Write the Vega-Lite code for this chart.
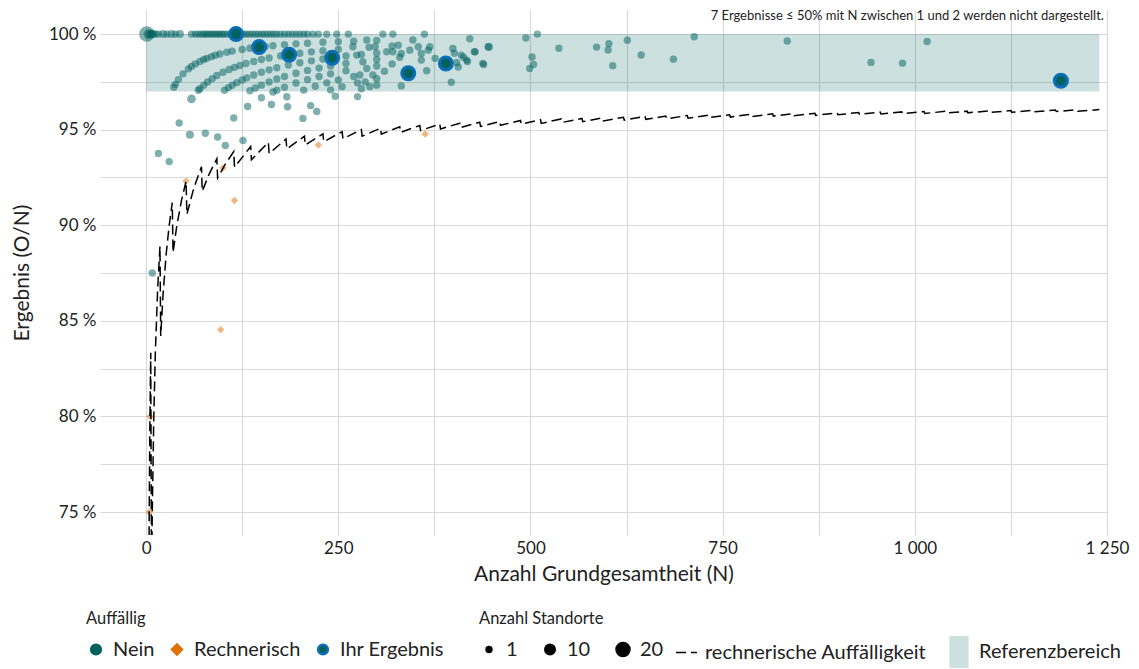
{
"$schema": "https://vega.github.io/schema/vega-lite/v6.json",
"width": 1007, "height": 525,
"autosize": {"type": "none"},
"padding": {"left": 100, "top": 10, "right": 32, "bottom": 134},
"background": "white",
"datasets": {
"pts": [
{"N":1,"Ergebnis":100,"Auffaellig":"Nein","Standorte":20},{"N":3,"Ergebnis":100,"Auffaellig":"Nein","Standorte":5},{"N":5,"Ergebnis":100,"Auffaellig":"Nein","Standorte":3},{"N":7,"Ergebnis":100,"Auffaellig":"Nein","Standorte":2},{"N":9,"Ergebnis":100,"Auffaellig":"Nein","Standorte":2},{"N":12,"Ergebnis":100,"Auffaellig":"Nein","Standorte":1},{"N":16,"Ergebnis":100,"Auffaellig":"Nein","Standorte":1},{"N":22,"Ergebnis":100,"Auffaellig":"Nein","Standorte":2},{"N":27,"Ergebnis":100,"Auffaellig":"Nein","Standorte":1},{"N":33,"Ergebnis":100,"Auffaellig":"Nein","Standorte":2},{"N":38,"Ergebnis":100,"Auffaellig":"Nein","Standorte":1},{"N":44,"Ergebnis":100,"Auffaellig":"Nein","Standorte":2},{"N":59,"Ergebnis":100,"Auffaellig":"Nein","Standorte":1},{"N":64,"Ergebnis":100,"Auffaellig":"Nein","Standorte":1},{"N":68,"Ergebnis":100,"Auffaellig":"Nein","Standorte":1},{"N":72,"Ergebnis":100,"Auffaellig":"Nein","Standorte":1},{"N":75,"Ergebnis":100,"Auffaellig":"Nein","Standorte":1},{"N":78,"Ergebnis":100,"Auffaellig":"Nein","Standorte":1},{"N":81,"Ergebnis":100,"Auffaellig":"Nein","Standorte":1},{"N":84,"Ergebnis":100,"Auffaellig":"Nein","Standorte":1},{"N":87,"Ergebnis":100,"Auffaellig":"Nein","Standorte":1},{"N":90,"Ergebnis":100,"Auffaellig":"Nein","Standorte":1},{"N":93,"Ergebnis":100,"Auffaellig":"Nein","Standorte":1},{"N":96,"Ergebnis":100,"Auffaellig":"Nein","Standorte":1},{"N":99,"Ergebnis":100,"Auffaellig":"Nein","Standorte":1},{"N":102,"Ergebnis":100,"Auffaellig":"Nein","Standorte":1},{"N":106,"Ergebnis":100,"Auffaellig":"Nein","Standorte":1},{"N":110,"Ergebnis":100,"Auffaellig":"Nein","Standorte":1},{"N":113,"Ergebnis":100,"Auffaellig":"Nein","Standorte":1},{"N":122,"Ergebnis":100,"Auffaellig":"Nein","Standorte":1},{"N":126,"Ergebnis":100,"Auffaellig":"Nein","Standorte":1},{"N":130,"Ergebnis":100,"Auffaellig":"Nein","Standorte":1},{"N":134,"Ergebnis":100,"Auffaellig":"Nein","Standorte":1},{"N":138,"Ergebnis":100,"Auffaellig":"Nein","Standorte":1},{"N":142,"Ergebnis":100,"Auffaellig":"Nein","Standorte":1},{"N":146,"Ergebnis":100,"Auffaellig":"Nein","Standorte":1},{"N":150,"Ergebnis":100,"Auffaellig":"Nein","Standorte":1},{"N":154,"Ergebnis":100,"Auffaellig":"Nein","Standorte":1},{"N":158,"Ergebnis":100,"Auffaellig":"Nein","Standorte":1},{"N":162,"Ergebnis":100,"Auffaellig":"Nein","Standorte":1},{"N":166,"Ergebnis":100,"Auffaellig":"Nein","Standorte":1},{"N":170,"Ergebnis":100,"Auffaellig":"Nein","Standorte":1},{"N":175,"Ergebnis":100,"Auffaellig":"Nein","Standorte":1},{"N":180,"Ergebnis":100,"Auffaellig":"Nein","Standorte":1},{"N":185,"Ergebnis":100,"Auffaellig":"Nein","Standorte":1},{"N":190,"Ergebnis":100,"Auffaellig":"Nein","Standorte":1},{"N":195,"Ergebnis":100,"Auffaellig":"Nein","Standorte":1},{"N":200,"Ergebnis":100,"Auffaellig":"Nein","Standorte":1},{"N":205,"Ergebnis":100,"Auffaellig":"Nein","Standorte":1},{"N":210,"Ergebnis":100,"Auffaellig":"Nein","Standorte":1},{"N":217,"Ergebnis":100,"Auffaellig":"Nein","Standorte":1},{"N":224,"Ergebnis":100,"Auffaellig":"Nein","Standorte":1},{"N":235,"Ergebnis":100,"Auffaellig":"Nein","Standorte":1},{"N":248,"Ergebnis":100,"Auffaellig":"Nein","Standorte":1},{"N":263,"Ergebnis":100,"Auffaellig":"Nein","Standorte":1},{"N":308,"Ergebnis":100,"Auffaellig":"Nein","Standorte":1},{"N":321,"Ergebnis":100,"Auffaellig":"Nein","Standorte":1},{"N":362,"Ergebnis":100,"Auffaellig":"Nein","Standorte":1},{"N":509,"Ergebnis":100,"Auffaellig":"Nein","Standorte":1},
{"N":8,"Ergebnis":87.5,"Auffaellig":"Nein","Standorte":1},{"N":16,"Ergebnis":93.75,"Auffaellig":"Nein","Standorte":1},{"N":36,"Ergebnis":97.22,"Auffaellig":"Nein","Standorte":1},{"N":38,"Ergebnis":97.37,"Auffaellig":"Nein","Standorte":1},{"N":42,"Ergebnis":97.62,"Auffaellig":"Nein","Standorte":1},{"N":48,"Ergebnis":97.92,"Auffaellig":"Nein","Standorte":1},{"N":55,"Ergebnis":98.18,"Auffaellig":"Nein","Standorte":1},{"N":59,"Ergebnis":98.31,"Auffaellig":"Nein","Standorte":1},{"N":64,"Ergebnis":98.44,"Auffaellig":"Nein","Standorte":1},{"N":70,"Ergebnis":98.57,"Auffaellig":"Nein","Standorte":1},{"N":75,"Ergebnis":98.67,"Auffaellig":"Nein","Standorte":1},{"N":79,"Ergebnis":98.73,"Auffaellig":"Nein","Standorte":1},{"N":85,"Ergebnis":98.82,"Auffaellig":"Nein","Standorte":1},{"N":90,"Ergebnis":98.89,"Auffaellig":"Nein","Standorte":1},{"N":96,"Ergebnis":98.96,"Auffaellig":"Nein","Standorte":1},{"N":105,"Ergebnis":99.05,"Auffaellig":"Nein","Standorte":1},{"N":112,"Ergebnis":99.11,"Auffaellig":"Nein","Standorte":1},{"N":125,"Ergebnis":99.2,"Auffaellig":"Nein","Standorte":1},{"N":135,"Ergebnis":99.26,"Auffaellig":"Nein","Standorte":1},{"N":155,"Ergebnis":99.35,"Auffaellig":"Nein","Standorte":1},{"N":165,"Ergebnis":99.39,"Auffaellig":"Nein","Standorte":1},{"N":180,"Ergebnis":99.44,"Auffaellig":"Nein","Standorte":1},{"N":195,"Ergebnis":99.49,"Auffaellig":"Nein","Standorte":1},{"N":210,"Ergebnis":99.52,"Auffaellig":"Nein","Standorte":1},{"N":230,"Ergebnis":99.57,"Auffaellig":"Nein","Standorte":1},{"N":250,"Ergebnis":99.6,"Auffaellig":"Nein","Standorte":1},{"N":270,"Ergebnis":99.63,"Auffaellig":"Nein","Standorte":1},{"N":300,"Ergebnis":99.67,"Auffaellig":"Nein","Standorte":1},{"N":421,"Ergebnis":99.76,"Auffaellig":"Nein","Standorte":1},{"N":494,"Ergebnis":99.8,"Auffaellig":"Nein","Standorte":1},{"N":713,"Ergebnis":99.86,"Auffaellig":"Nein","Standorte":1},
{"N":30,"Ergebnis":93.33,"Auffaellig":"Nein","Standorte":1},{"N":43,"Ergebnis":95.35,"Auffaellig":"Nein","Standorte":1},{"N":59,"Ergebnis":96.61,"Auffaellig":"Nein","Standorte":3},{"N":70,"Ergebnis":97.14,"Auffaellig":"Nein","Standorte":1},{"N":68,"Ergebnis":97.06,"Auffaellig":"Nein","Standorte":1},{"N":75,"Ergebnis":97.33,"Auffaellig":"Nein","Standorte":1},{"N":80,"Ergebnis":97.5,"Auffaellig":"Nein","Standorte":1},{"N":86,"Ergebnis":97.67,"Auffaellig":"Nein","Standorte":1},{"N":92,"Ergebnis":97.83,"Auffaellig":"Nein","Standorte":1},{"N":100,"Ergebnis":98.0,"Auffaellig":"Nein","Standorte":1},{"N":108,"Ergebnis":98.15,"Auffaellig":"Nein","Standorte":1},{"N":115,"Ergebnis":98.26,"Auffaellig":"Nein","Standorte":1},{"N":122,"Ergebnis":98.36,"Auffaellig":"Nein","Standorte":1},{"N":130,"Ergebnis":98.46,"Auffaellig":"Nein","Standorte":1},{"N":140,"Ergebnis":98.57,"Auffaellig":"Nein","Standorte":1},{"N":150,"Ergebnis":98.67,"Auffaellig":"Nein","Standorte":1},{"N":160,"Ergebnis":98.75,"Auffaellig":"Nein","Standorte":1},{"N":175,"Ergebnis":98.86,"Auffaellig":"Nein","Standorte":1},{"N":200,"Ergebnis":99.0,"Auffaellig":"Nein","Standorte":1},{"N":215,"Ergebnis":99.07,"Auffaellig":"Nein","Standorte":1},{"N":230,"Ergebnis":99.13,"Auffaellig":"Nein","Standorte":1},{"N":250,"Ergebnis":99.2,"Auffaellig":"Nein","Standorte":1},{"N":290,"Ergebnis":99.31,"Auffaellig":"Nein","Standorte":1},{"N":320,"Ergebnis":99.38,"Auffaellig":"Nein","Standorte":1},{"N":626,"Ergebnis":99.68,"Auffaellig":"Nein","Standorte":1},
{"N":57,"Ergebnis":94.74,"Auffaellig":"Nein","Standorte":2},{"N":102,"Ergebnis":97.06,"Auffaellig":"Nein","Standorte":1},{"N":107,"Ergebnis":97.2,"Auffaellig":"Nein","Standorte":1},{"N":112,"Ergebnis":97.32,"Auffaellig":"Nein","Standorte":1},{"N":118,"Ergebnis":97.46,"Auffaellig":"Nein","Standorte":1},{"N":125,"Ergebnis":97.6,"Auffaellig":"Nein","Standorte":1},{"N":131,"Ergebnis":97.71,"Auffaellig":"Nein","Standorte":1},{"N":140,"Ergebnis":97.86,"Auffaellig":"Nein","Standorte":1},{"N":150,"Ergebnis":98.0,"Auffaellig":"Nein","Standorte":1},{"N":160,"Ergebnis":98.13,"Auffaellig":"Nein","Standorte":1},{"N":170,"Ergebnis":98.24,"Auffaellig":"Nein","Standorte":1},{"N":185,"Ergebnis":98.38,"Auffaellig":"Nein","Standorte":1},{"N":200,"Ergebnis":98.5,"Auffaellig":"Nein","Standorte":1},{"N":215,"Ergebnis":98.6,"Auffaellig":"Nein","Standorte":1},{"N":230,"Ergebnis":98.7,"Auffaellig":"Nein","Standorte":1},{"N":260,"Ergebnis":98.85,"Auffaellig":"Nein","Standorte":1},{"N":280,"Ergebnis":98.93,"Auffaellig":"Nein","Standorte":1},{"N":300,"Ergebnis":99.0,"Auffaellig":"Nein","Standorte":1},{"N":446,"Ergebnis":99.33,"Auffaellig":"Nein","Standorte":2},{"N":602,"Ergebnis":99.5,"Auffaellig":"Nein","Standorte":1},{"N":834,"Ergebnis":99.64,"Auffaellig":"Nein","Standorte":1},
{"N":77,"Ergebnis":94.81,"Auffaellig":"Nein","Standorte":1},{"N":135,"Ergebnis":97.04,"Auffaellig":"Nein","Standorte":1},{"N":142,"Ergebnis":97.18,"Auffaellig":"Nein","Standorte":1},{"N":150,"Ergebnis":97.33,"Auffaellig":"Nein","Standorte":1},{"N":160,"Ergebnis":97.5,"Auffaellig":"Nein","Standorte":1},{"N":170,"Ergebnis":97.65,"Auffaellig":"Nein","Standorte":1},{"N":180,"Ergebnis":97.78,"Auffaellig":"Nein","Standorte":1},{"N":195,"Ergebnis":97.95,"Auffaellig":"Nein","Standorte":1},{"N":210,"Ergebnis":98.1,"Auffaellig":"Nein","Standorte":1},{"N":225,"Ergebnis":98.22,"Auffaellig":"Nein","Standorte":1},{"N":240,"Ergebnis":98.33,"Auffaellig":"Nein","Standorte":1},{"N":260,"Ergebnis":98.46,"Auffaellig":"Nein","Standorte":1},{"N":300,"Ergebnis":98.67,"Auffaellig":"Nein","Standorte":1},{"N":330,"Ergebnis":98.79,"Auffaellig":"Nein","Standorte":1},{"N":428,"Ergebnis":99.07,"Auffaellig":"Nein","Standorte":1},{"N":537,"Ergebnis":99.26,"Auffaellig":"Nein","Standorte":1},{"N":586,"Ergebnis":99.32,"Auffaellig":"Nein","Standorte":1},{"N":1016,"Ergebnis":99.61,"Auffaellig":"Nein","Standorte":1},{"N":401,"Ergebnis":99.0,"Auffaellig":"Nein","Standorte":1},
{"N":93,"Ergebnis":94.62,"Auffaellig":"Nein","Standorte":1},{"N":114,"Ergebnis":95.61,"Auffaellig":"Nein","Standorte":1},{"N":132,"Ergebnis":96.21,"Auffaellig":"Nein","Standorte":1},{"N":150,"Ergebnis":96.67,"Auffaellig":"Nein","Standorte":1},{"N":165,"Ergebnis":96.97,"Auffaellig":"Nein","Standorte":1},{"N":170,"Ergebnis":97.06,"Auffaellig":"Nein","Standorte":1},{"N":180,"Ergebnis":97.22,"Auffaellig":"Nein","Standorte":1},{"N":195,"Ergebnis":97.44,"Auffaellig":"Nein","Standorte":1},{"N":210,"Ergebnis":97.62,"Auffaellig":"Nein","Standorte":1},{"N":225,"Ergebnis":97.78,"Auffaellig":"Nein","Standorte":1},{"N":240,"Ergebnis":97.92,"Auffaellig":"Nein","Standorte":1},{"N":260,"Ergebnis":98.08,"Auffaellig":"Nein","Standorte":1},{"N":300,"Ergebnis":98.33,"Auffaellig":"Nein","Standorte":1},{"N":320,"Ergebnis":98.44,"Auffaellig":"Nein","Standorte":1},{"N":413,"Ergebnis":98.79,"Auffaellig":"Nein","Standorte":1},{"N":601,"Ergebnis":99.17,"Auffaellig":"Nein","Standorte":1},
{"N":103,"Ergebnis":94.17,"Auffaellig":"Nein","Standorte":1},{"N":163,"Ergebnis":96.32,"Auffaellig":"Nein","Standorte":1},{"N":183,"Ergebnis":96.72,"Auffaellig":"Nein","Standorte":1},{"N":205,"Ergebnis":97.07,"Auffaellig":"Nein","Standorte":1},{"N":220,"Ergebnis":97.27,"Auffaellig":"Nein","Standorte":1},{"N":235,"Ergebnis":97.45,"Auffaellig":"Nein","Standorte":1},{"N":250,"Ergebnis":97.6,"Auffaellig":"Nein","Standorte":1},{"N":270,"Ergebnis":97.78,"Auffaellig":"Nein","Standorte":1},{"N":310,"Ergebnis":98.06,"Auffaellig":"Nein","Standorte":1},{"N":404,"Ergebnis":98.51,"Auffaellig":"Nein","Standorte":1},{"N":418,"Ergebnis":98.56,"Auffaellig":"Nein","Standorte":1},{"N":502,"Ergebnis":98.8,"Auffaellig":"Nein","Standorte":1},
{"N":126,"Ergebnis":94.44,"Auffaellig":"Nein","Standorte":1},{"N":184,"Ergebnis":96.2,"Auffaellig":"Nein","Standorte":1},{"N":240,"Ergebnis":97.08,"Auffaellig":"Nein","Standorte":1},{"N":255,"Ergebnis":97.25,"Auffaellig":"Nein","Standorte":1},{"N":275,"Ergebnis":97.45,"Auffaellig":"Nein","Standorte":1},{"N":300,"Ergebnis":97.67,"Auffaellig":"Nein","Standorte":1},{"N":365,"Ergebnis":98.08,"Auffaellig":"Nein","Standorte":1},{"N":406,"Ergebnis":98.28,"Auffaellig":"Nein","Standorte":1},{"N":439,"Ergebnis":98.41,"Auffaellig":"Nein","Standorte":1},{"N":644,"Ergebnis":98.91,"Auffaellig":"Nein","Standorte":1},
{"N":214,"Ergebnis":96.26,"Auffaellig":"Nein","Standorte":1},{"N":246,"Ergebnis":96.75,"Auffaellig":"Nein","Standorte":1},{"N":280,"Ergebnis":97.14,"Auffaellig":"Nein","Standorte":1},{"N":291,"Ergebnis":97.25,"Auffaellig":"Nein","Standorte":1},{"N":300,"Ergebnis":97.33,"Auffaellig":"Nein","Standorte":1},{"N":504,"Ergebnis":98.41,"Auffaellig":"Nein","Standorte":1},
{"N":204,"Ergebnis":95.59,"Auffaellig":"Nein","Standorte":1},{"N":222,"Ergebnis":95.95,"Auffaellig":"Nein","Standorte":1},{"N":275,"Ergebnis":96.73,"Auffaellig":"Nein","Standorte":1},{"N":332,"Ergebnis":97.29,"Auffaellig":"Nein","Standorte":1},{"N":499,"Ergebnis":98.2,"Auffaellig":"Nein","Standorte":1},{"N":686,"Ergebnis":98.69,"Auffaellig":"Nein","Standorte":1},
{"N":397,"Ergebnis":97.48,"Auffaellig":"Nein","Standorte":1},{"N":607,"Ergebnis":98.35,"Auffaellig":"Nein","Standorte":1},{"N":943,"Ergebnis":98.52,"Auffaellig":"Nein","Standorte":1},{"N":984,"Ergebnis":98.48,"Auffaellig":"Nein","Standorte":1},
{"N":269,"Ergebnis":99.34,"Auffaellig":"Nein","Standorte":1},{"N":274,"Ergebnis":98.9,"Auffaellig":"Nein","Standorte":1},{"N":287,"Ergebnis":99.69,"Auffaellig":"Nein","Standorte":1},{"N":282,"Ergebnis":98.55,"Auffaellig":"Nein","Standorte":1},{"N":287,"Ergebnis":98.2,"Auffaellig":"Nein","Standorte":1},{"N":298,"Ergebnis":99.34,"Auffaellig":"Nein","Standorte":1},{"N":295,"Ergebnis":97.86,"Auffaellig":"Nein","Standorte":1},{"N":278,"Ergebnis":97.86,"Auffaellig":"Nein","Standorte":1},{"N":285,"Ergebnis":97.5,"Auffaellig":"Nein","Standorte":1},{"N":313,"Ergebnis":99.08,"Auffaellig":"Nein","Standorte":1},{"N":321,"Ergebnis":99.08,"Auffaellig":"Nein","Standorte":1},{"N":328,"Ergebnis":99.42,"Auffaellig":"Nein","Standorte":1},{"N":332,"Ergebnis":98.99,"Auffaellig":"Nein","Standorte":1},{"N":343,"Ergebnis":99.16,"Auffaellig":"Nein","Standorte":1},{"N":347,"Ergebnis":99.69,"Auffaellig":"Nein","Standorte":1},{"N":354,"Ergebnis":99.34,"Auffaellig":"Nein","Standorte":1},{"N":358,"Ergebnis":98.99,"Auffaellig":"Nein","Standorte":1},{"N":358,"Ergebnis":98.64,"Auffaellig":"Nein","Standorte":1},{"N":367,"Ergebnis":99.16,"Auffaellig":"Nein","Standorte":1},{"N":369,"Ergebnis":99.34,"Auffaellig":"Nein","Standorte":1},{"N":376,"Ergebnis":98.73,"Auffaellig":"Nein","Standorte":1},{"N":399,"Ergebnis":99.25,"Auffaellig":"Nein","Standorte":1},{"N":410,"Ergebnis":98.9,"Auffaellig":"Nein","Standorte":1},{"N":417,"Ergebnis":98.64,"Auffaellig":"Nein","Standorte":1},{"N":427,"Ergebnis":99.08,"Auffaellig":"Nein","Standorte":1},{"N":438,"Ergebnis":98.47,"Auffaellig":"Nein","Standorte":1},{"N":445,"Ergebnis":99.34,"Auffaellig":"Nein","Standorte":1},
{"N":4,"Ergebnis":75,"Auffaellig":"Rechnerisch","Standorte":1},{"N":5,"Ergebnis":80,"Auffaellig":"Rechnerisch","Standorte":1},{"N":52,"Ergebnis":92.31,"Auffaellig":"Rechnerisch","Standorte":1},{"N":97,"Ergebnis":84.54,"Auffaellig":"Rechnerisch","Standorte":1},{"N":100,"Ergebnis":93.0,"Auffaellig":"Rechnerisch","Standorte":1},{"N":115,"Ergebnis":91.3,"Auffaellig":"Rechnerisch","Standorte":1},{"N":224,"Ergebnis":94.2,"Auffaellig":"Rechnerisch","Standorte":1},{"N":363,"Ergebnis":94.77,"Auffaellig":"Rechnerisch","Standorte":1}
],
"ihr": [
{"N":117,"Ergebnis":100,"Auffaellig":"Ihr Ergebnis"},{"N":147,"Ergebnis":99.32,"Auffaellig":"Ihr Ergebnis"},{"N":186,"Ergebnis":98.92,"Auffaellig":"Ihr Ergebnis"},{"N":242,"Ergebnis":98.76,"Auffaellig":"Ihr Ergebnis"},{"N":341,"Ergebnis":97.95,"Auffaellig":"Ihr Ergebnis"},{"N":390,"Ergebnis":98.46,"Auffaellig":"Ihr Ergebnis"},{"N":1190,"Ergebnis":97.56,"Auffaellig":"Ihr Ergebnis"}
],
"grenze": [
{"N":3,"Grenze":66.67},{"N":4,"Grenze":75},{"N":5,"Grenze":80},{"N":6,"Grenze":83.33},
{"N":7,"Grenze":71.43},{"N":8,"Grenze":75},{"N":10,"Grenze":80},{"N":12,"Grenze":83.33},{"N":15,"Grenze":86.67},{"N":18,"Grenze":88.89},
{"N":19,"Grenze":84.21},{"N":22,"Grenze":86.36},{"N":26,"Grenze":88.46},{"N":30,"Grenze":90},{"N":34,"Grenze":91.18},
{"N":35,"Grenze":88.57},{"N":40,"Grenze":90},{"N":46,"Grenze":91.3},{"N":52,"Grenze":92.31},
{"N":53,"Grenze":90.57},{"N":62,"Grenze":91.94},{"N":72,"Grenze":93.06},
{"N":73,"Grenze":91.78},{"N":82,"Grenze":92.68},{"N":92,"Grenze":93.48},
{"N":93,"Grenze":92.47},{"N":103,"Grenze":93.2},{"N":114,"Grenze":93.86},
{"N":115,"Grenze":93.04},{"N":136,"Grenze":94.12},
{"N":137,"Grenze":93.43},{"N":159,"Grenze":94.34},
{"N":160,"Grenze":93.75},{"N":182,"Grenze":94.51},
{"N":183,"Grenze":93.99},{"N":206,"Grenze":94.66},
{"N":207,"Grenze":94.2},{"N":230,"Grenze":94.78},
{"N":231,"Grenze":94.37},{"N":255,"Grenze":94.9},
{"N":256,"Grenze":94.53},{"N":280,"Grenze":95.0},
{"N":281,"Grenze":94.66},{"N":305,"Grenze":95.08},
{"N":306,"Grenze":94.77},{"N":330,"Grenze":95.15},
{"N":331,"Grenze":94.86},{"N":356,"Grenze":95.22},
{"N":357,"Grenze":94.96},{"N":382,"Grenze":95.29},
{"N":383,"Grenze":95.04},{"N":408,"Grenze":95.34},
{"N":409,"Grenze":95.11},{"N":434,"Grenze":95.39},
{"N":435,"Grenze":95.17},{"N":460,"Grenze":95.43},
{"N":461,"Grenze":95.23},{"N":487,"Grenze":95.48},
{"N":488,"Grenze":95.29},{"N":513,"Grenze":95.52},
{"N":514,"Grenze":95.33},{"N":540,"Grenze":95.56},
{"N":541,"Grenze":95.38},{"N":567,"Grenze":95.59},
{"N":568,"Grenze":95.42},{"N":594,"Grenze":95.62},
{"N":595,"Grenze":95.46},{"N":621,"Grenze":95.65},
{"N":622,"Grenze":95.5},{"N":649,"Grenze":95.69},
{"N":650,"Grenze":95.54},{"N":676,"Grenze":95.71},
{"N":677,"Grenze":95.57},{"N":704,"Grenze":95.74},
{"N":705,"Grenze":95.6},{"N":731,"Grenze":95.76},
{"N":732,"Grenze":95.63},{"N":759,"Grenze":95.78},
{"N":760,"Grenze":95.66},{"N":787,"Grenze":95.81},
{"N":788,"Grenze":95.69},{"N":815,"Grenze":95.83},
{"N":816,"Grenze":95.71},{"N":842,"Grenze":95.84},
{"N":843,"Grenze":95.73},{"N":870,"Grenze":95.86},
{"N":871,"Grenze":95.75},{"N":899,"Grenze":95.88},
{"N":900,"Grenze":95.78},{"N":927,"Grenze":95.9},
{"N":928,"Grenze":95.8},{"N":955,"Grenze":95.92},
{"N":956,"Grenze":95.82},{"N":983,"Grenze":95.93},
{"N":984,"Grenze":95.83},{"N":1012,"Grenze":95.95},
{"N":1013,"Grenze":95.85},{"N":1040,"Grenze":95.96},
{"N":1041,"Grenze":95.87},{"N":1068,"Grenze":95.97},
{"N":1069,"Grenze":95.88},{"N":1097,"Grenze":95.99},
{"N":1098,"Grenze":95.9},{"N":1125,"Grenze":96.0},
{"N":1126,"Grenze":95.91},{"N":1154,"Grenze":96.01},
{"N":1155,"Grenze":95.93},{"N":1183,"Grenze":96.03},
{"N":1184,"Grenze":95.95},{"N":1211,"Grenze":96.04},
{"N":1212,"Grenze":95.96},{"N":1240,"Grenze":96.05}
],
"ref": [{"N_von":0,"N_bis":1240,"von":97,"bis":100,"Bereich":"Referenzbereich"}],
"note": [{"text":"7 Ergebnisse ≤ 50% mit N zwischen 1 und 2 werden nicht dargestellt.","N":1246,"Ergebnis":100.93}]
},
"layer": [
{
"data": {"name": "ref"},
"mark": {"type": "rect", "opacity": 0.2},
"encoding": {
"x": {"field": "N_von", "type": "quantitative", "scale": {"domain": [-60, 1250], "nice": false, "zero": false},
"axis": {"title": "Anzahl Grundgesamtheit (N)", "values": [0,125,250,375,500,625,750,875,1000,1125,1250], "labelExpr": "datum.value % 250 == 0 ? replace(format(datum.value, ','), ',', ' ') : ''", "labelFlush": false, "labelOverlap": false, "labelPadding": 5, "titlePadding": 7}},
"x2": {"field": "N_bis"},
"y": {"field": "von", "type": "quantitative", "scale": {"domain": [73.8, 101.26], "nice": false, "zero": false},
"axis": {"title": "Ergebnis (O/N)", "values": [75,77.5,80,82.5,85,87.5,90,92.5,95,97.5,100], "labelExpr": "datum.value % 5 == 0 ? format(datum.value, 'd') + ' %' : ''", "labelFlush": false, "labelOverlap": false, "labelPadding": 4, "titlePadding": 16}},
"y2": {"field": "bis"},
"color": {"field": "Bereich", "type": "nominal", "scale": {"range": ["#006262"]},
"legend": {"title": null, "legendX": 843, "legendY": 626, "symbolType": "M-0.6,-1H0.6V1H-0.6Z", "symbolSize": 1024, "symbolOpacity": 0.2, "symbolStrokeWidth": 0, "labelOffset": 4, "labelLimit": 300,
"encode": {"symbols": {"update": {"opacity": {"value": 0.2}}}}}}
}
},
{
"data": {"name": "pts"},
"mark": {"type": "point", "filled": true, "opacity": 0.5, "strokeWidth": 0},
"encoding": {
"x": {"field": "N", "type": "quantitative"},
"y": {"field": "Ergebnis", "type": "quantitative"},
"fill": {"field": "Auffaellig", "type": "nominal", "scale": {"domain": ["Nein", "Rechnerisch", "Ihr Ergebnis"], "range": ["#00625f", "#e07000", "#00625f"]},
"legend": {"title": "Auffällig", "legendX": -14, "legendY": 601, "symbolSize": 95, "symbolStrokeWidth": 2.5, "symbolOpacity": 1, "columnPadding": 12, "labelLimit": 300,
"encode": {"symbols": {"update": {"opacity": {"value": 1}}}}}},
"stroke": {"field": "Auffaellig", "type": "nominal", "scale": {"domain": ["Nein", "Rechnerisch", "Ihr Ergebnis"], "range": ["#00625f", "#e07000", "#0a6eb8"]}, "legend": {"title": "Auffällig"}},
"shape": {"field": "Auffaellig", "type": "nominal", "scale": {"domain": ["Nein", "Rechnerisch", "Ihr Ergebnis"], "range": ["circle", "diamond", "circle"]}, "legend": {"title": "Auffällig"}},
"size": {"field": "Standorte", "type": "quantitative", "scale": {"domain": [1, 20], "range": [55, 240], "zero": false},
"legend": {"title": "Anzahl Standorte", "values": [1, 10, 20], "legendX": 379, "legendY": 601, "symbolFillColor": "black", "symbolStrokeColor": "black", "symbolOpacity": 1, "symbolStrokeWidth": 0, "symbolType": "circle", "columnPadding": 22,
"encode": {"symbols": {"update": {"opacity": {"value": 1}}}}}}
}
},
{
"data": {"name": "grenze"},
"mark": {"type": "line", "color": "black", "strokeWidth": 1.5, "clip": true},
"encoding": {
"x": {"field": "N", "type": "quantitative"},
"y": {"field": "Grenze", "type": "quantitative"},
"strokeDash": {"datum": "rechnerische Auffälligkeit", "type": "nominal", "scale": {"range": [[10, 5]]},
"legend": {"title": null, "legendX": 575, "legendY": 631, "symbolStrokeColor": "black", "symbolStrokeWidth": 1.5, "symbolSize": 440, "symbolType": "stroke", "labelLimit": 300}}
}
},
{
"data": {"name": "ihr"},
"mark": {"type": "point", "filled": true, "opacity": 1, "strokeWidth": 3, "size": 170},
"encoding": {
"x": {"field": "N", "type": "quantitative"},
"y": {"field": "Ergebnis", "type": "quantitative"},
"fill": {"field": "Auffaellig", "type": "nominal"},
"stroke": {"field": "Auffaellig", "type": "nominal"},
"shape": {"field": "Auffaellig", "type": "nominal"}
}
},
{
"data": {"name": "note"},
"mark": {"type": "text", "align": "right", "baseline": "middle", "fontSize": 13, "font": "Lato", "color": "#222"},
"encoding": {
"x": {"field": "N", "type": "quantitative"},
"y": {"field": "Ergebnis", "type": "quantitative"},
"text": {"field": "text"}
}
}
],
"config": {
"view": {"stroke": null},
"font": "Lato",
"axis": {"grid": true, "gridColor": "#d9d9d9", "gridWidth": 1.2, "domain": false, "ticks": false, "tickSize": 0,
"labelFont": "Lato", "labelFontSize": 17, "labelColor": "#222", "titleFont": "Lato", "titleFontSize": 21, "titleFontWeight": "normal", "titleColor": "#222"},
"legend": {"orient": "none", "direction": "horizontal", "titleFont": "Lato", "titleFontSize": 16.5, "titleFontWeight": "normal", "titleColor": "#222",
"labelFont": "Lato", "labelFontSize": 20, "labelColor": "#222", "padding": 0, "titlePadding": 12, "columnPadding": 16, "labelOffset": 7}
}
}
